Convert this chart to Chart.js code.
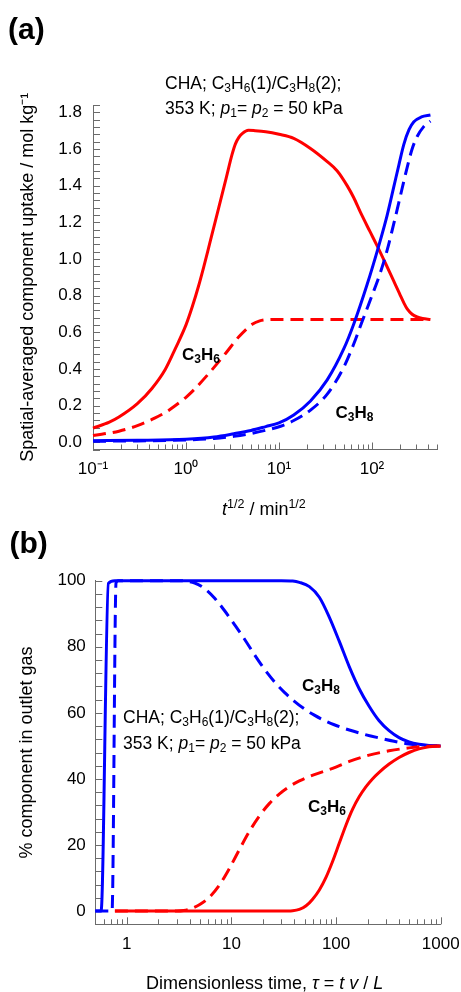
<!DOCTYPE html>
<html>
<head>
<meta charset="utf-8">
<script src="https://cdn.jsdelivr.net/npm/chart.js@4.4.1/dist/chart.umd.min.js"></script>
<style>
  body { margin: 0; background: #fff; }
  #page { position: relative; width: 461px; height: 992px; overflow: hidden;
          font-family: 'Liberation Sans', Arial, sans-serif; color: #000; }
  canvas { position: absolute; left: 0; }
  .t { position: absolute; white-space: nowrap; line-height: 1; }
  .pan { font-weight: bold; font-size: 30px; }
  .an { font-size: 17.5px; }
  .lb { font-weight: bold; font-size: 17px; }
  .ax { font-size: 18px; }
  .s { position: relative; font-size: 12px; top: 3px; }
  .u { position: relative; font-size: 12.5px; top: -7px; }
</style>
</head>
<body>
<div id="page">
  <canvas id="chartA" width="461" height="530" style="top:0"></canvas>
  <canvas id="chartB" width="461" height="462" style="top:530px"></canvas>

  <div class="t pan" style="left:8px; top:14.3px">(a)</div>
  <div class="t an" style="left:165px; top:75.2px">CHA; C<span class="s">3</span>H<span class="s">6</span>(1)/C<span class="s">3</span>H<span class="s">8</span>(2);</div>
  <div class="t an" style="left:165px; top:100.2px">353 K; <i>p</i><span class="s">1</span>= <i>p</i><span class="s">2</span> = 50 kPa</div>
  <div class="t lb" style="left:182px; top:345.6px">C<span class="s">3</span>H<span class="s">6</span></div>
  <div class="t lb" style="left:335.5px; top:403.9px">C<span class="s">3</span>H<span class="s">8</span></div>
  <div class="t ax" style="left:222px; top:499.8px"><i>t</i><span class="u">1/2</span> / min<span class="u">1/2</span></div>

  <div class="t pan" style="left:9.5px; top:528.2px">(b)</div>
  <div class="t an" style="left:123px; top:708.5px">CHA; C<span class="s">3</span>H<span class="s">6</span>(1)/C<span class="s">3</span>H<span class="s">8</span>(2);</div>
  <div class="t an" style="left:123px; top:734.7px">353 K; <i>p</i><span class="s">1</span>= <i>p</i><span class="s">2</span> = 50 kPa</div>
  <div class="t lb" style="left:302px; top:677.3px">C<span class="s">3</span>H<span class="s">8</span></div>
  <div class="t lb" style="left:308px; top:798.1px">C<span class="s">3</span>H<span class="s">6</span></div>
  <div class="t ax" style="left:146px; top:973.8px">Dimensionless time, <i>τ</i> = <i>t v</i> / <i>L</i></div>
</div>

<script>
// ---- panel (a): uptake vs t^1/2 ----
const upC3H6X = [0.1, 0.15, 0.19, 0.3, 0.43, 0.6, 0.77, 1.0, 1.17, 1.37, 1.54, 1.7, 1.9, 2.25, 2.7, 3.14, 3.4, 3.7, 4.02, 4.7, 5.5, 7.2, 10, 14.4, 21.8, 33, 42.3, 54, 63.5, 75, 95, 114, 140, 171, 190, 202, 220, 239, 270, 306, 350, 425];
const upC3H6Y = [0.077, 0.109, 0.137, 0.21, 0.293, 0.398, 0.512, 0.64, 0.74, 0.855, 0.95, 1.035, 1.133, 1.28, 1.44, 1.573, 1.628, 1.663, 1.684, 1.702, 1.70, 1.694, 1.68, 1.658, 1.603, 1.531, 1.48, 1.40, 1.335, 1.255, 1.15, 1.07, 0.975, 0.88, 0.83, 0.80, 0.76, 0.727, 0.698, 0.683, 0.675, 0.67];

const upC3H6dX = [0.1, 0.19, 0.3, 0.43, 0.6, 0.77, 1.0, 1.17, 1.76, 2.66, 3.7, 5.15, 6.2, 7.2, 10, 30, 100, 425];
const upC3H6dY = [0.036, 0.06, 0.09, 0.124, 0.162, 0.2, 0.245, 0.277, 0.375, 0.484, 0.575, 0.643, 0.662, 0.668, 0.67, 0.67, 0.67, 0.67];

const upC3H8X = [0.1, 0.3, 1, 2, 3.27, 5, 7.2, 10, 14.4, 21.8, 33, 49.8, 63.7, 88.6, 118, 145, 171, 195, 220, 250, 282, 340, 425];
const upC3H8Y = [0.008, 0.01, 0.016, 0.028, 0.046, 0.064, 0.085, 0.105, 0.148, 0.225, 0.34, 0.51, 0.645, 0.86, 1.07, 1.235, 1.39, 1.515, 1.625, 1.705, 1.748, 1.775, 1.785];

const upC3H8dX = [0.1, 0.3, 1, 2, 3.27, 5, 7.2, 10.4, 14.4, 21.8, 33, 49.8, 63, 78.5, 100, 122, 145, 171, 200, 239, 270, 306, 360, 425];
const upC3H8dY = [0.005, 0.007, 0.012, 0.02, 0.032, 0.047, 0.065, 0.087, 0.118, 0.175, 0.262, 0.41, 0.53, 0.66, 0.8, 0.92, 1.045, 1.19, 1.335, 1.5, 1.6, 1.668, 1.722, 1.752];

const xTickValsA = [0.1, 1, 10, 100];
const xTickLabelsA = ['10⁻¹', '10⁰', '10¹', '10²'];
const yTickValsA = [0, 0.2, 0.4, 0.6, 0.8, 1.0, 1.2, 1.4, 1.6, 1.8];
const yTickLabelsA = ['0.0', '0.2', '0.4', '0.6', '0.8', '1.0', '1.2', '1.4', '1.6', '1.8'];

// ---- panel (b): breakthrough, % in outlet gas ----
const brC3H8X = [0.5, 0.568, 0.667, 0.77, 1, 3, 10, 30, 38.5, 44.6, 55.6, 69.2, 86.1, 107.2, 133.6, 166.3, 207, 258, 321, 400, 498, 620, 772, 1000];
const brC3H8Y = [0, 0, 99.2, 100, 100, 100, 100, 100, 99.9, 99.5, 98.2, 95.0, 89.0, 81.7, 74.0, 67.3, 62.0, 57.6, 54.6, 52.5, 51.2, 50.5, 50.15, 50];

const brC3H8dX = [0.5, 0.723, 0.789, 0.83, 1, 2, 3, 3.58, 4.46, 5.56, 6.92, 8.61, 10.7, 13.4, 16.6, 20.7, 25.8, 32.1, 40, 49.8, 62, 77.2, 96.1, 134, 186, 258, 358, 498, 692, 1000];
const brC3H8dY = [0, 0, 99.3, 100, 100, 100, 100, 99.9, 99.3, 97.6, 94.7, 90.9, 86.7, 82.2, 77.6, 73.2, 69.4, 66.2, 63.5, 61.2, 59.3, 57.7, 56.4, 54.8, 53.5, 52.4, 51.4, 50.6, 50.15, 50];

const brC3H6X = [0.77, 1, 3, 10, 30, 38.5, 44.6, 51.7, 59.7, 69.2, 80.1, 92.6, 107.2, 124.2, 143.6, 166.3, 192.6, 222.7, 258, 321.5, 400, 498, 620, 772, 1000];
const brC3H6Y = [0, 0, 0, 0, 0, 0.1, 0.5, 1.6, 3.6, 6.4, 10.2, 15.0, 20.5, 26.0, 30.8, 34.6, 37.6, 40.0, 42.0, 44.5, 46.5, 48.0, 49.1, 49.7, 50];

const brC3H6dX = [0.77, 1, 2, 3, 3.5, 4.0, 4.98, 6.2, 7.72, 9.6, 12.0, 14.9, 18.6, 23.1, 28.8, 35.8, 44.6, 62, 92.6, 134, 207, 321, 498, 772, 1000];
const brC3H6dY = [0, 0, 0, 0, 0.15, 0.6, 2.0, 4.3, 8.0, 13.0, 18.8, 24.2, 28.9, 32.6, 35.5, 37.7, 39.4, 41.3, 43.2, 45.3, 47.2, 48.5, 49.4, 49.9, 50];

const xTickValsB = [1, 10, 100, 1000];
const xTickLabelsB = ['1', '10', '100', '1000'];
const yTickValsB = [0, 20, 40, 60, 80, 100];
const yTickLabelsB = ['0', '20', '40', '60', '80', '100'];

const FONT = "'Liberation Sans', Arial, sans-serif";
const AXIS = '#6b6b6b';
const RED = '#ff0000';
const BLUE = '#0000ff';

function pts(xs, ys) {
    return xs.map((x, i) => ({x: x, y: ys[i]}));
}

function labelFor(vals, labels) {
    return function (v) {
        for (let i = 0; i < vals.length; i++) {
            if (Math.abs(v - vals[i]) < 1e-6 * Math.max(1, vals[i])) return labels[i];
        }
        return '';
    };
}

// keep only 1..9 x 10^n ticks (newer Chart.js adds 1.5 x 10^n)
function dropOddLogTicks(scale) {
    scale.ticks = scale.ticks.filter(t => {
        const m = t.value / Math.pow(10, Math.floor(Math.log10(t.value) + 1e-9));
        return Math.abs(m - Math.round(m)) < 1e-6;
    });
}

function line(xs, ys, color, dashed) {
    return {
        data: pts(xs, ys),
        borderColor: color,
        borderWidth: 3,
        borderDash: dashed ? [13, 7] : [],
        borderJoinStyle: 'round',
        pointRadius: 0,
        cubicInterpolationMode: 'monotone',
        fill: false,
        clip: 6
    };
}

// ticks drawn inward from the axes
const innerTicks = {
    id: 'innerTicks',
    beforeDatasetsDraw(chart) {
        const ctx = chart.ctx, a = chart.chartArea;
        const sx = chart.scales.x, sy = chart.scales.y;
        ctx.save();
        ctx.strokeStyle = AXIS;
        ctx.lineWidth = 1;
        ctx.beginPath();
        sx.ticks.forEach(t => {
            const p = Math.round(sx.getPixelForValue(t.value)) + 0.5;
            const lg = Math.log10(t.value);
            const len = Math.abs(lg - Math.round(lg)) < 1e-6 ? 7 : 5;
            ctx.moveTo(p, a.bottom);
            ctx.lineTo(p, a.bottom - len);
        });
        sy.ticks.forEach(t => {
            const p = Math.round(sy.getPixelForValue(t.value)) + 0.5;
            ctx.moveTo(a.left, p);
            ctx.lineTo(a.left + 7, p);
        });
        ctx.stroke();
        ctx.restore();
    }
};

function makeOptions(cfg) {
    return {
        responsive: false,
        animation: false,
        devicePixelRatio: 1,
        layout: {padding: {left: 0, top: cfg.top, right: cfg.right, bottom: 0}},
        plugins: {legend: {display: false}, tooltip: {enabled: false}},
        scales: {
            x: {
                type: 'logarithmic',
                min: cfg.xMin, max: cfg.xMax,
                grid: {display: false, drawTicks: false},
                border: {display: true, color: AXIS, width: 1},
                afterBuildTicks: dropOddLogTicks,
                ticks: {
                    autoSkip: false, maxRotation: 0, minRotation: 0,
                    padding: cfg.xPad, color: '#000',
                    font: {family: FONT, size: 17},
                    callback: labelFor(cfg.xVals, cfg.xLabels)
                },
                afterFit: s => {
                    s.height = cfg.xHeight;
                    s.paddingLeft = 0; s.paddingRight = 0;
                }
            },
            y: {
                type: 'linear',
                min: cfg.yMin, max: cfg.yMax,
                grid: {display: false, drawTicks: false},
                border: {display: true, color: AXIS, width: 1},
                ticks: {
                    stepSize: cfg.yStep, autoSkip: false,
                    padding: cfg.yPad, color: '#000',
                    font: {family: FONT, size: 17},
                    callback: labelFor(cfg.yVals, cfg.yLabels)
                },
                title: {
                    display: true, text: cfg.yTitle, color: '#000',
                    font: {family: FONT, size: 18},
                    padding: {top: cfg.titlePad, bottom: 0}
                },
                afterFit: s => {
                    s.width = cfg.yWidth;
                    s.paddingTop = 0; s.paddingBottom = 0;
                }
            }
        }
    };
}

new Chart(document.getElementById('chartA'), {
    type: 'line',
    data: {
        datasets: [
            line(upC3H8X, upC3H8Y, BLUE, false),
            line(upC3H8dX, upC3H8dY, BLUE, true),
            line(upC3H6X, upC3H6Y, RED, false),
            line(upC3H6dX, upC3H6dY, RED, true)
        ]
    },
    options: makeOptions({
        top: 105, right: 24,
        xMin: 0.1, xMax: 500, xPad: 9.3, xHeight: 80.5,
        xVals: xTickValsA, xLabels: xTickLabelsA,
        yMin: -0.04, yMax: 1.84, yStep: 0.04, yPad: 11, yWidth: 93,
        yVals: yTickValsA, yLabels: yTickLabelsA,
        yTitle: 'Spatial-averaged component uptake / mol kg⁻¹', titlePad: 17.6
    }),
    plugins: [innerTicks]
});

new Chart(document.getElementById('chartB'), {
    type: 'line',
    data: {
        datasets: [
            line(brC3H6X, brC3H6Y, RED, false),
            line(brC3H6dX, brC3H6dY, RED, true),
            line(brC3H8X, brC3H8Y, BLUE, false),
            line(brC3H8dX, brC3H8dY, BLUE, true)
        ]
    },
    options: makeOptions({
        top: 50.7, right: 20.3,
        xMin: 0.5, xMax: 1000, xPad: 9.5, xHeight: 67.7,
        xVals: xTickValsB, xLabels: xTickLabelsB,
        yMin: -4, yMax: 100, yStep: 4, yPad: 9.5, yWidth: 95.3,
        yVals: yTickValsB, yLabels: yTickLabelsB,
        yTitle: '% component in outlet gas', titlePad: 16.6
    }),
    plugins: [innerTicks]
});
</script>
</body>
</html>
